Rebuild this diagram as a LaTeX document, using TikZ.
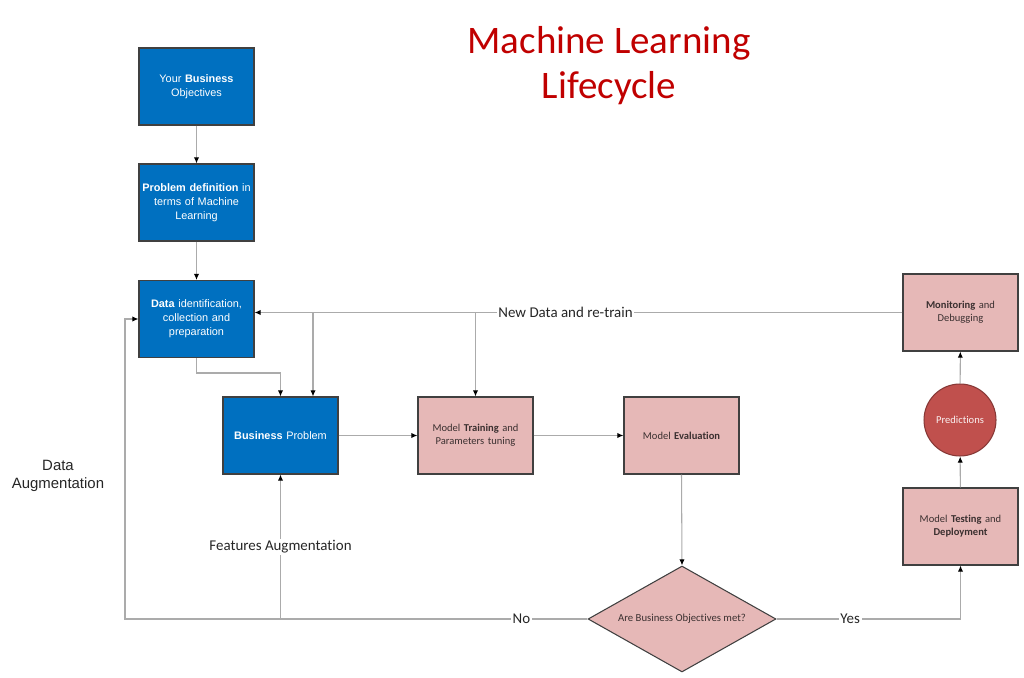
\documentclass[tikz,border=0pt]{standalone}
\usepackage{fontspec}
\setmainfont{Carlito}[Ligatures=NoCommon]
\newfontfamily\arialfont{Liberation Sans}
\usetikzlibrary{arrows.meta,shapes.geometric}
\definecolor{mlblue}{HTML}{0070C0}
\definecolor{mlpink}{HTML}{E6B8B7}
\definecolor{mlred}{HTML}{C0504D}
\definecolor{mltitle}{HTML}{C00000}
\definecolor{mlline}{HTML}{ABABAB}
\definecolor{mltext}{HTML}{3B3030}
\begin{document}
\begin{tikzpicture}[x=.02cm,y=-.02cm,
  box/.style={draw=black!75,line width=.6pt,minimum width=2.3cm,minimum height=1.54cm,
    text width=2.25cm,align=center,inner sep=0pt},
  bluebox/.style={box,fill=mlblue,text=white,font=\arialfont\fontsize{6.2}{7.9}\selectfont},
  pinkbox/.style={box,fill=mlpink,text=mltext,font=\fontsize{6}{7.4}\selectfont},
  conn/.style={draw=mlline,line width=.6pt,-{Latex[length=3.5pt,width=3pt,black]}},
  lbl/.style={fill=white,inner sep=1pt,text=black!85,font=\fontsize{8.5}{10}\selectfont}]
  \useasboundingbox (0,0) rectangle (1024,678);
  % title
  \node[text=mltitle,align=center,font=\fontsize{22.2}{25.5}\selectfont] (title) at (609,65.5)
    {Machine Learning\\Lifecycle};
  % blue column
  \node[bluebox] (obj)  at (196.5,86.5) {Your \textbf{Business}\\Objectives};
  \node[bluebox] (pdef) at (196.5,202.5) {\textbf{Problem definition} in\\terms of Machine\\Learning};
  \node[bluebox] (data) at (196.5,319) {\textbf{Data} identification,\\collection and\\preparation};
  \node[bluebox] (bprob) at (280.5,435.5) {\textbf{Business} Problem};
  % pink steps
  \node[pinkbox] (train) at (475.5,435.5) {Model \textbf{Training} and\\Parameters tuning};
  \node[pinkbox] (eval)  at (681.5,435.5) {Model \textbf{Evaluation}};
  \node[draw=black!75,line width=.6pt,fill=mlpink,text=mltext,diamond,aspect=1.77,inner sep=0pt,
    minimum width=3.76cm,minimum height=2.12cm,font=\fontsize{6.1}{7.4}\selectfont] (dec) at (682,619)
    {Are Business Objectives met?};
  \node[pinkbox] (test) at (960.5,526.5) {Model \textbf{Testing} and\\\textbf{Deployment}};
  \node[circle,draw=mlred!70!black,line width=.6pt,fill=mlred,text=white!92!mlred,minimum size=1.44cm,
    inner sep=0pt,font=\fontsize{6}{7.4}\selectfont] (pred) at (960,420) {Predictions};
  \node[pinkbox] (mon) at (960.5,312.5) {\textbf{Monitoring} and\\Debugging};
  \node[align=center,text=black!85,font=\arialfont\fontsize{8.5}{10.2}\selectfont] (daug) at (58,476)
    {Data\\Augmentation};
  % connectors
  \draw[conn] (obj) -- (pdef);
  \draw[conn] (pdef) -- (data);
  \draw[conn] (data.south) -- ++(0,15) -| (bprob.north);
  \draw[conn] (mon.west) -- node[lbl,pos=.52] {New Data and re-train} (mon.west -| data.east);
  \coordinate (nd) at (313,312.5);
  \draw[conn] (nd) -- (nd |- bprob.north);
  \draw[conn] (train.north |- mon.west) -- (train.north);
  \draw[conn] (bprob) -- (train);
  \draw[conn] (train) -- (eval);
  \draw[conn] (eval.south) -- (dec.north);
  \coordinate (noend) at (125,619);
  \draw[conn] (dec.west) -- node[lbl,pos=.143] {No} (noend) |- (data.west);
  \draw[conn] (bprob.south |- dec.west) -- node[lbl,pos=.5] {Features Augmentation} (bprob.south);
  \draw[conn] (dec.east) -- node[lbl,pos=.4] {Yes} (dec.east -| test.south) -- (test.south);
  \draw[conn] (test) -- (pred);
  \draw[conn] (pred) -- (mon);
\end{tikzpicture}
\end{document}
